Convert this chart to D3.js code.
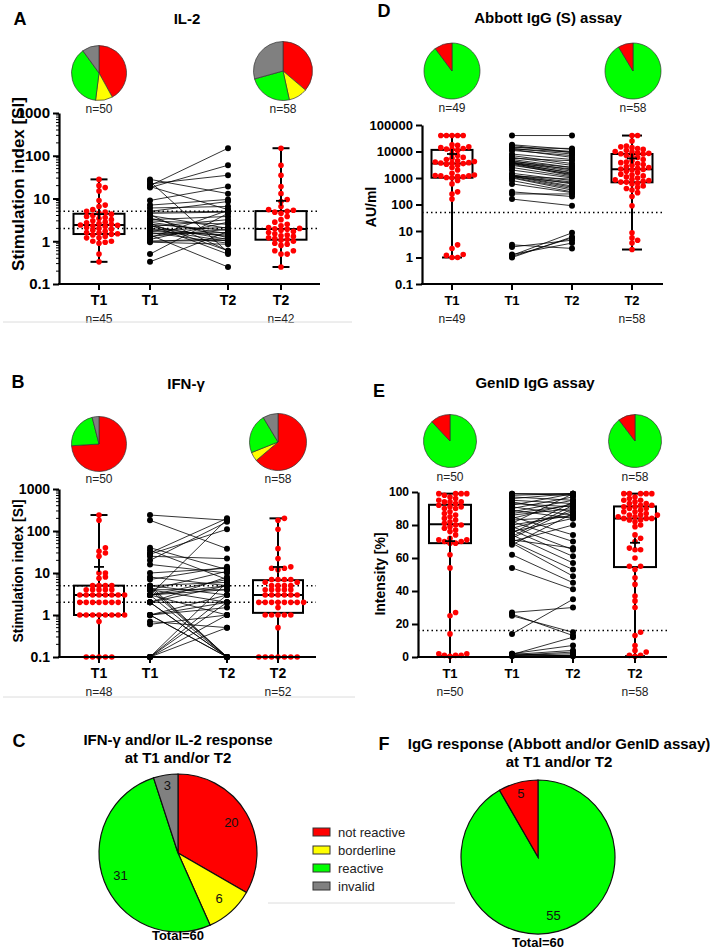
<!DOCTYPE html>
<html><head><meta charset="utf-8">
<script src="https://cdn.jsdelivr.net/npm/d3@7"></script>
<style>body{margin:0;background:#fff}svg{display:block}text{font-family:"Liberation Sans",Arial,sans-serif}</style>
</head><body><svg id="c" width="710" height="952"></svg>
<script>
// ---------- data ----------
const statusNames = ["not reactive","borderline","reactive","invalid"];
const statusColors = ["#ff0000","#ffff00","#00ff00","#808080"];
const tickLabels = ["T1","T1","T2","T2"];
const cellOrder = [0,1,2,3];
const iggOrder = [2,0];

// IL-2
const il2PieT1 = [21,5,19,5];
const il2PieT2 = [21,6,14,17];
const il2T1 = [0.33,0.5,0.9,0.95,1.0,1.0,1.2,1.2,1.3,1.4,1.45,1.5,1.55,1.6,1.7,1.8,1.9,2.0,2.1,2.2,2.3,2.35,2.4,2.5,2.6,2.7,2.8,3.0,3.2,3.4,3.6,3.8,4.0,4.3,4.5,4.8,5.0,5.5,6.5,7.0,9.0,15,18,20,28];
const il2T2 = [0.25,0.5,0.5,0.6,0.6,0.8,0.85,0.9,1.0,1.05,1.1,1.15,1.2,1.3,1.35,1.4,1.5,1.6,1.7,1.8,1.9,1.95,2.0,2.1,2.3,2.5,2.8,3.2,3.8,4.5,4.8,5.0,5.3,5.5,6.5,8.5,9.5,13,19,35,60,150];
const il2Pairs = [[20,150],[18,60],[22,35],[9,19],[28,13],[25,0.55],[7,9.5],[5,8.5],[4.8,5],[4.5,4.8],[4,2],[3.5,1.2],[3,2.5],[2.8,1.5],[2.6,0.6],[2.5,1.8],[2.3,1.1],[2.2,3.2],[2,1.3],[1.9,1],[1.8,2.1],[1.7,1.4],[1.6,0.9],[1.5,1.6],[1.4,0.25],[1.3,1.9],[1.2,5.3],[1.1,2.8],[1,1.15],[0.95,0.85],[0.5,4.5],[0.33,1.7],[6,6.5],[19,5.5],[3.2,3.8],[2.4,0.5],[1,1.05],[4.2,0.6]];
const il2PieN = ["n=50","n=58"];
const il2BoxN = ["n=45","n=42"];

// IFN-gamma
const ifnPieT1 = [37,0,11,2];
const ifnPieT2 = [37,3,13,5];
const ifnT1 = [0.1,0.1,0.1,0.1,0.1,0.7,1,1,1,1,1,1,1,1,2,2,2,2,2,2,2,3,3,3,3,3,3,3,3,4,4,4,4,4,5,5,5,5,7.5,8,10,10,25,30,33,40,180,240];
const ifnT2 = [0.1,0.1,0.1,0.1,0.1,0.1,0.1,0.5,1,1,1,1,1,1.5,2,2,2,2,2,2,2,2,3,3,3,3,3,3,4,4,4,4,4,5,5,5,5,6,6,7,7,7,7,12,13,13,14,22,38,110,180,200];
const ifnPairs = [[240,180],[180,38],[30,200],[28,110],[40,12],[35,7],[25,22],[16,10],[10,13],[8,5],[7,14],[5,6],[5,3],[4.5,0.1],[4,2],[4,11],[3,1],[3,4],[3,0.1],[2,5],[2,8],[2,0.1],[1,1.5],[1,0.1],[1,2],[1,3],[0.7,0.5],[0.6,1],[0.1,1],[0.1,2],[0.1,0.5],[0.1,3],[0.1,6],[0.1,0.1],[4,0.1],[2,0.1],[3,5],[5,0.1],[1,0.1],[2,2],[3,7],[4,4],[3,190],[20,165]];
const ifnPieN = ["n=50","n=58"];
const ifnBoxN = ["n=48","n=52"];

// Abbott IgG (S)
const abbottPieT1 = [5,0,44,0];
const abbottPieT2 = [5,0,53,0];
const abbottT1 = [1,1,1.2,1.3,2.2,3,160,250,300,600,800,1000,1050,1100,1150,1200,1200,1250,1300,1500,2000,2500,3000,3300,3500,3600,3700,3800,4000,4200,4500,5000,5500,6000,7000,8000,11000,12000,12500,13000,14000,15000,17000,18000,40000,40000,40000,40000,40000];
const abbottT2 = [2,3.5,4.5,5.5,8.5,90,200,280,350,400,450,500,600,650,700,700,750,800,850,900,1000,1100,1200,1300,1400,1600,1800,2000,2100,2200,2300,2500,2700,3000,3200,3500,3800,4000,4500,5000,6000,6500,7000,8000,8200,8500,9000,9500,10000,11000,12000,13000,14000,15000,16000,25000,40000,40000];
const abbottPairs = [[40000,40000],[18000,12000],[17000,9000],[15000,10000],[14000,13000],[13000,8000],[12500,9500],[12000,6000],[11000,7000],[8000,5000],[7000,3500],[6000,3000],[5500,4500],[5000,2500],[4500,2000],[4200,2500],[4000,1800],[3800,1500],[3700,2200],[3600,1300],[3500,1600],[3300,1200],[3000,1400],[2500,1100],[2000,1000],[1500,800],[1300,700],[1250,600],[1200,900],[1200,500],[1150,450],[1100,650],[1050,400],[1000,350],[800,300],[600,280],[300,200],[250,250],[160,90],[3,2.2],[2.5,4.5],[1.3,3.5],[1.2,8.5],[1.1,5.5],[1,6]];
const abbottPieN = ["n=49","n=58"];
const abbottBoxN = ["n=49","n=58"];

// GenID IgG
const genidPieT1 = [6,0,44,0];
const genidPieT2 = [6,0,52,0];
const genidT1 = [0.5,1,1,1,2,2,14,25,27,54,62,69,69,70,70,71,71,72,74,76,77,78,79,80,80,81,82,83,84,85,86,87,88,90,90,91,91,92,93,94,94,94,95,96,97,98,99,99,99,99];
const genidT2 = [0.5,1,1,3,4,7,13,15,30,34,37,44,48,53,55,55,60,65,65,66,70,72,74,79,80,82,83,83,84,84,84,85,85,86,86,86,87,88,88,89,90,90,91,91,92,92,93,93,94,95,95,96,97,99,99,99,99,99];
const genidPairs = [[99,99],[99,98],[98,99],[97,95],[96,99],[95,93],[94,88],[93,91],[92,99],[91,86],[90,97],[89,84],[88,95],[87,92],[86,90],[85,74],[84,93],[83,85],[82,70],[81,99],[80,86],[79,65],[78,88],[77,61],[76,84],[75,94],[74,57],[73,92],[72,90],[71,66],[70,53],[70,80],[69,49],[68,87],[62,45],[54,41],[26,13],[25,15],[14,35],[27,30],[1.5,12],[2,7],[1.5,4],[1,3],[1,2],[1,1],[2,0.5],[0.5,1]];
const genidPieN = ["n=50","n=58"];
const genidBoxN = ["n=50","n=58"];

// combined
const cellCombined = [20,6,31,3];
const iggCombined = [5,0,55,0];
const totalLabel = "Total=60";

// ---------- drawing ----------
const svg = d3.select("#c");
const catKeys = ["t1","t1p","t2p","t2"];

function gpQuantile(s, p){
  const n = s.length, pos = (n+1)*p;
  if (pos <= 1) return s[0];
  if (pos >= n) return s[n-1];
  const lo = Math.floor(pos), f = pos-lo;
  return s[lo-1] + f*(s[lo]-s[lo-1]);
}

function swarm(values, y, cx, sp, dyTh){
  const pts = values.map(v=>({v, y:y(v)})).sort((a,b)=>b.y-a.y);
  const placed = [];
  pts.forEach(p=>{
    for (let k=0;k<80;k++){
      const off = k===0?0:(k%2===1?1:-1)*Math.ceil(k/2)*sp;
      const ok = placed.every(q => ((q.dx-off)/sp)**2 + ((q.y-p.y)/dyTh)**2 >= 0.97);
      if (ok){ p.dx = off; placed.push(p); break; }
    }
  });
  return placed.map(p=>({x:cx+p.dx, y:p.y}));
}

function smallPie(g, cx, cy, r, counts, order){
  const data = order.map(i=>({s:i, v:counts[i]})).filter(d=>d.v>0);
  const arcs = d3.pie().sort(null).value(d=>d.v)(data);
  const arc = d3.arc().innerRadius(0).outerRadius(r);
  g.append("g").attr("transform",`translate(${cx},${cy})`)
    .selectAll("path").data(arcs).join("path")
    .attr("d",arc).attr("fill",d=>statusColors[d.data.s])
    .attr("stroke","#333").attr("stroke-width",0.7);
}

function panel(o){
  const g = svg.append("g");
  const y = (o.log?d3.scaleLog():d3.scaleLinear()).domain(o.yDomain).range([o.yBottom,o.yTop]);
  const x = d3.scaleOrdinal().domain(catKeys).range(o.xs);

  g.append("text").attr("x",o.letterPos[0]).attr("y",o.letterPos[1]).attr("text-anchor","middle")
    .attr("dominant-baseline","central").attr("font-size",18).attr("font-weight","bold").text(o.letter);
  g.append("text").attr("x",o.titlePos[0]).attr("y",o.titlePos[1]).attr("text-anchor","middle")
    .attr("dominant-baseline","central").attr("font-size",15).attr("font-weight","bold").text(o.title);

  smallPie(g, o.pie1[0], o.pie1[1], o.pie1[2], o.pieData[0], o.order);
  smallPie(g, o.pie2[0], o.pie2[1], o.pie2[2], o.pieData[1], o.order);
  g.selectAll(".pn").data(o.pieN).join("text")
    .attr("x",(d,i)=>i?o.pie2[0]:o.pie1[0]).attr("y",o.pieNY)
    .attr("text-anchor","middle").attr("dominant-baseline","central")
    .attr("font-size",12).attr("fill","#222").text(d=>d);

  g.selectAll(".thr").data(o.thresholds).join("line")
    .attr("x1",o.axisX).attr("x2",o.xEnd).attr("y1",d=>y(d)).attr("y2",d=>y(d))
    .attr("stroke","#000").attr("stroke-width",1.5).attr("stroke-dasharray","1.5,3");

  g.selectAll(".pl").data(o.pairs).join("line")
    .attr("x1",x("t1p")).attr("x2",x("t2p")).attr("y1",d=>y(d[0])).attr("y2",d=>y(d[1]))
    .attr("stroke","#000").attr("stroke-width",0.8);
  const blk = o.pairs.flatMap(d=>[{k:"t1p",v:d[0]},{k:"t2p",v:d[1]}]);
  g.selectAll(".bd").data(blk).join("circle")
    .attr("cx",d=>x(d.k)).attr("cy",d=>y(d.v)).attr("r",3).attr("fill","#000");

  [["t1",o.t1],["t2",o.t2]].forEach(([k,vals])=>{
    const s = vals.slice().sort((a,b)=>a-b);
    const q1=gpQuantile(s,.25), med=gpQuantile(s,.5), q3=gpQuantile(s,.75);
    const mn=s[0], mx=s[s.length-1], mean=d3.mean(s);
    const cx=x(k), hw=o.boxW/2, cw=o.capW/2;
    const bg = g.append("g").attr("stroke","#000").attr("stroke-width",2).attr("fill","none");
    bg.append("rect").attr("x",cx-hw).attr("y",y(q3)).attr("width",2*hw).attr("height",y(q1)-y(q3));
    bg.append("line").attr("x1",cx-hw).attr("x2",cx+hw).attr("y1",y(med)).attr("y2",y(med));
    bg.append("line").attr("x1",cx).attr("x2",cx).attr("y1",y(q3)).attr("y2",y(mx));
    bg.append("line").attr("x1",cx).attr("x2",cx).attr("y1",y(q1)).attr("y2",y(mn));
    bg.append("line").attr("x1",cx-cw).attr("x2",cx+cw).attr("y1",y(mx)).attr("y2",y(mx));
    bg.append("line").attr("x1",cx-cw).attr("x2",cx+cw).attr("y1",y(mn)).attr("y2",y(mn));
    g.append("g").selectAll("circle").data(swarm(vals,y,cx,o.sp,o.dyTh)).join("circle")
      .attr("cx",d=>d.x).attr("cy",d=>d.y).attr("r",2.8).attr("fill","#ff0000");
    const pm = g.append("g").attr("stroke","#000").attr("stroke-width",1.8);
    pm.append("line").attr("x1",cx-5).attr("x2",cx+5).attr("y1",y(mean)).attr("y2",y(mean));
    pm.append("line").attr("x1",cx).attr("x2",cx).attr("y1",y(mean)-5).attr("y2",y(mean)+5);
  });

  const ya = d3.axisLeft(y).tickValues(o.ticks).tickFormat(d=>String(d)).tickSize(6).tickSizeOuter(0).tickPadding(3);
  const gy = g.append("g").attr("transform",`translate(${o.axisX},0)`).call(ya);
  gy.attr("font-family",null).attr("font-size",null);
  gy.selectAll("text").attr("font-size",o.tickFont).attr("font-weight","bold").attr("fill","#000");
  gy.selectAll("line").attr("stroke-width",2);
  gy.select(".domain").attr("stroke-width",2.2);
  if (o.minor){
    const mt=[];
    o.ticks.slice(0,-1).forEach(t=>{for(let m=2;m<=9;m++) mt.push(t*m);});
    g.selectAll(".mt").data(mt).join("line")
      .attr("x1",o.axisX-3).attr("x2",o.axisX).attr("y1",d=>y(d)).attr("y2",d=>y(d))
      .attr("stroke","#000").attr("stroke-width",1);
  }
  g.append("text").attr("transform",`translate(${o.ylabPos[0]},${o.ylabPos[1]}) rotate(-90)`)
    .attr("text-anchor","middle").attr("dominant-baseline","central")
    .attr("font-size",o.ylabFont).attr("font-weight","bold").text(o.ylab);

  const base = o.yBottom;
  g.append("line").attr("x1",o.axisX-1).attr("x2",o.xEnd).attr("y1",base).attr("y2",base)
    .attr("stroke","#000").attr("stroke-width",2.2);
  g.selectAll(".xt").data(catKeys).join("line")
    .attr("x1",d=>x(d)).attr("x2",d=>x(d)).attr("y1",base).attr("y2",base+6)
    .attr("stroke","#000").attr("stroke-width",2);
  g.selectAll(".xl").data(catKeys).join("text")
    .attr("x",d=>x(d)).attr("y",base+16).attr("text-anchor","middle").attr("dominant-baseline","central")
    .attr("font-size",o.xFont).attr("font-weight","bold").text((d,i)=>tickLabels[i]);
  g.selectAll(".bn").data(o.boxN).join("text")
    .attr("x",(d,i)=>i?x("t2"):x("t1")).attr("y",base+35).attr("text-anchor","middle")
    .attr("dominant-baseline","central").attr("font-size",12).attr("fill","#222").text(d=>d);
}

const logTicks3 = [0.1,1,10,100,1000];
panel({letter:"A",letterPos:[20,19],title:"IL-2",titlePos:[187,18],
  pie1:[99,73,27.5],pie2:[283,71,29.5],pieData:[il2PieT1,il2PieT2],order:cellOrder,pieN:il2PieN,pieNY:109,
  log:true,yDomain:[0.1,1000],yBottom:284,yTop:113,xs:[99,150,228,281],axisX:59,xEnd:320,
  thresholds:[5,2],pairs:il2Pairs,t1:il2T1,t2:il2T2,boxW:51,capW:17,sp:6.2,dyTh:4.5,
  ticks:logTicks3,tickFont:15,minor:true,ylab:"Stimulation index [SI]",ylabPos:[18,184],ylabFont:17,
  xFont:14,boxN:il2BoxN});
panel({letter:"B",letterPos:[18,382],title:"IFN-γ",titlePos:[186,383],
  pie1:[99,444,27.5],pie2:[278,442,28.5],pieData:[ifnPieT1,ifnPieT2],order:cellOrder,pieN:ifnPieN,pieNY:479,
  log:true,yDomain:[0.1,1000],yBottom:657,yTop:489,xs:[99,150,227,278],axisX:59,xEnd:316,
  thresholds:[5,2],pairs:ifnPairs,t1:ifnT1,t2:ifnT2,boxW:50,capW:17,sp:6.4,dyTh:3.6,
  ticks:logTicks3,tickFont:14,minor:true,ylab:"Stimulation index [SI]",ylabPos:[18,571],ylabFont:14,
  xFont:14,boxN:ifnBoxN});
panel({letter:"D",letterPos:[384,11],title:"Abbott IgG (S) assay",titlePos:[548,17],
  pie1:[452,71,28],pie2:[633,71,28],pieData:[abbottPieT1,abbottPieT2],order:iggOrder,pieN:abbottPieN,pieNY:108,
  log:true,yDomain:[0.1,100000],yBottom:284,yTop:125,xs:[452,512,572,632],axisX:422,xEnd:663,
  thresholds:[50],pairs:abbottPairs,t1:abbottT1,t2:abbottT2,boxW:41,capW:20,sp:5.6,dyTh:4.2,
  ticks:[0.1,1,10,100,1000,10000,100000],tickFont:13,minor:false,ylab:"AU/ml",ylabPos:[371,207],ylabFont:14,
  xFont:13,boxN:abbottBoxN});
panel({letter:"E",letterPos:[379,391],title:"GenID IgG assay",titlePos:[535,382],
  pie1:[450,441,26.5],pie2:[635,441,26.5],pieData:[genidPieT1,genidPieT2],order:iggOrder,pieN:genidPieN,pieNY:477,
  log:false,yDomain:[0,100],yBottom:657,yTop:492,xs:[450,512,573,635],axisX:418,xEnd:667,
  thresholds:[16],pairs:genidPairs,t1:genidT1,t2:genidT2,boxW:42,capW:20,sp:5.6,dyTh:4.2,
  ticks:[0,20,40,60,80,100],tickFont:12,minor:false,ylab:"Intensity [%]",ylabPos:[380,574],ylabFont:14,
  xFont:13,boxN:genidBoxN});

const seps = [[3,352,322],[3,355,697],[268,455,903]];
svg.selectAll(".sep").data(seps).join("line")
  .attr("x1",d=>d[0]).attr("x2",d=>d[1]).attr("y1",d=>d[2]).attr("y2",d=>d[2])
  .attr("stroke","#dcdcdc").attr("stroke-width",1);

function bigPie(o){
  const g = svg.append("g");
  g.append("text").attr("x",o.letterPos[0]).attr("y",o.letterPos[1]).attr("text-anchor","middle")
    .attr("dominant-baseline","central").attr("font-size",18).attr("font-weight","bold").text(o.letter);
  g.selectAll(".tl").data(o.title).join("text").attr("x",o.titleX).attr("y",(d,i)=>o.titleY+i*18)
    .attr("text-anchor","middle").attr("dominant-baseline","central").attr("font-size",15).attr("font-weight","bold").text(d=>d);
  const data = o.order.map(i=>({s:i,v:o.counts[i]})).filter(d=>d.v>0);
  const total = d3.sum(data,d=>d.v);
  const arcs = d3.pie().sort(null).value(d=>d.v)(data);
  const arc = d3.arc().innerRadius(0).outerRadius(o.r);
  const pg = g.append("g").attr("transform",`translate(${o.cx},${o.cy})`);
  pg.selectAll("path").data(arcs).join("path").attr("d",arc)
    .attr("fill",d=>statusColors[d.data.s]).attr("stroke","#111").attr("stroke-width",1.2);
  pg.selectAll("text").data(arcs).join("text")
    .attr("transform",d=>{const f=d.value/total<0.1?0.86:0.78;
      const c=d3.arc().innerRadius(o.r*f).outerRadius(o.r*f).centroid(d);return `translate(${c})`;})
    .attr("text-anchor","middle").attr("dominant-baseline","central").attr("font-size",13).attr("fill","#111")
    .text(d=>d.value);
  g.append("text").attr("x",o.cx).attr("y",o.totalY).attr("text-anchor","middle").attr("dominant-baseline","central")
    .attr("font-size",13).attr("font-weight","bold").text(totalLabel);
}
bigPie({letter:"C",letterPos:[19,741],title:["IFN-γ and/or IL-2 response","at T1 and/or T2"],titleX:178,titleY:739,
  counts:cellCombined,order:cellOrder,cx:178,cy:853,r:79,totalY:935});
bigPie({letter:"F",letterPos:[384,744],title:["IgG response (Abbott and/or GenID assay)","at T1 and/or T2"],titleX:559,titleY:743,
  counts:iggCombined,order:iggOrder,cx:538,cy:857,r:77,totalY:942});

const lg = svg.append("g");
lg.selectAll("rect").data(statusNames).join("rect")
  .attr("x",313).attr("y",(d,i)=>828+i*18).attr("width",17).attr("height",8)
  .attr("fill",(d,i)=>statusColors[i]).attr("stroke","#333").attr("stroke-width",1);
lg.selectAll("text").data(statusNames).join("text")
  .attr("x",338).attr("y",(d,i)=>832+i*18).attr("dominant-baseline","central")
  .attr("font-size",13).attr("fill","#222").text(d=>d);
</script></body></html>
